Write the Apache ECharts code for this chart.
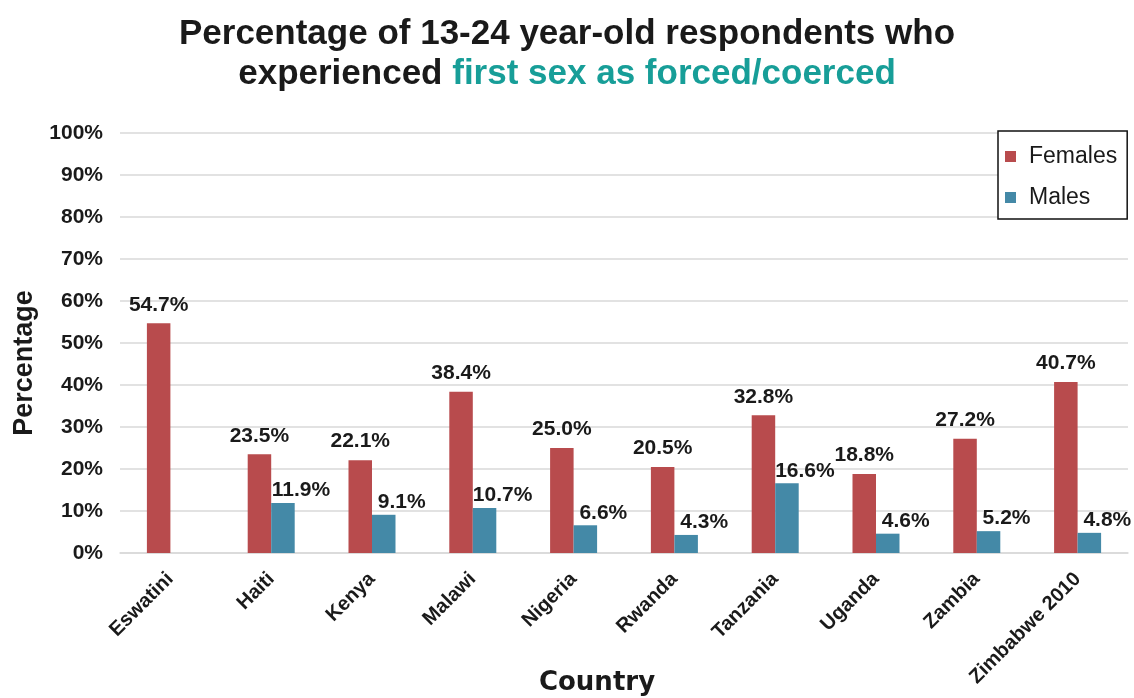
<!DOCTYPE html>
<html>
<head>
<meta charset="utf-8">
<style>
  html, body { margin: 0; padding: 0; background: #ffffff; }
  #chart { width: 1134px; height: 698px; }
</style>
<script src="https://cdn.jsdelivr.net/npm/echarts@6/dist/echarts.min.js"></script>
</head>
<body>
<div id="chart"></div>
<script>
// Countries surveyed
const countries = ['Eswatini', 'Haiti', 'Kenya', 'Malawi', 'Nigeria', 'Rwanda', 'Tanzania', 'Uganda', 'Zambia', 'Zimbabwe 2010'];
// Percent reporting first sex as forced/coerced
const females = [54.7, 23.5, 22.1, 38.4, 25.0, 20.5, 32.8, 18.8, 27.2, 40.7];
const males = [null, 11.9, 9.1, 10.7, 6.6, 4.3, 16.6, 4.6, 5.2, 4.8];
// Y axis range, percent
const yMin = 0, yMax = 100, yStep = 10;

const FONT = '"Liberation Sans", Arial, sans-serif';
const pct = p => (p.value == null ? '' : Number(p.value).toFixed(1) + '%');

const chart = echarts.init(document.getElementById('chart'), null, { renderer: 'canvas' });
chart.setOption({
  backgroundColor: '#ffffff',
  animation: false,
  title: {
    left: 'center',
    top: 9,
    text: '{a|Percentage of 13-24 year-old respondents who}\n{a|experienced }{b|first sex as forced/coerced}',
    textStyle: {
      rich: {
        a: { fontFamily: FONT, fontWeight: 'bold', fontSize: 35, color: '#1a1a1a', lineHeight: 40 },
        b: { fontFamily: FONT, fontWeight: 'bold', fontSize: 35, color: '#179e98', lineHeight: 40 }
      }
    }
  },
  legend: {
    orient: 'vertical',
    left: 998,
    top: 131,
    padding: [14, 10, 10, 7],
    itemGap: 18,
    itemWidth: 11,
    itemHeight: 11,
    icon: 'rect',
    borderColor: '#111111',
    borderWidth: 1.5,
    backgroundColor: '#ffffff',
    textStyle: { fontFamily: FONT, fontSize: 23, color: '#1a1a1a', padding: [0, 0, 0, 8] },
    data: ['Females', 'Males']
  },
  grid: { left: 120, right: 6, top: 133, bottom: 145, outerBoundsMode: 'none', containLabel: false },
  xAxis: {
    type: 'category',
    data: countries,
    name: 'Country',
    nameLocation: 'middle',
    nameGap: 117,
    nameMoveOverlap: false,
    nameTextStyle: {
      fontFamily: '"DejaVu Sans", sans-serif', fontWeight: 'bold', fontSize: 26, color: '#1a1a1a',
      padding: [0, 54, 0, 0]
    },
    axisLine: { lineStyle: { color: '#d9d9d9', width: 1.5 } },
    axisTick: { show: false },
    axisLabel: {
      interval: 0, rotate: 45, margin: 23,
      fontFamily: FONT, fontWeight: 'bold', fontSize: 20, color: '#1a1a1a'
    }
  },
  yAxis: {
    type: 'value',
    min: yMin, max: yMax, interval: yStep,
    name: 'Percentage',
    nameLocation: 'middle',
    nameGap: 79,
    nameTextStyle: {
      fontFamily: FONT, fontWeight: 'bold', fontSize: 27, color: '#1a1a1a',
      padding: [0, 40, 0, 0]
    },
    axisLine: { show: false },
    axisTick: { show: false },
    axisLabel: {
      margin: 17,
      formatter: '{value}%',
      fontFamily: FONT, fontWeight: 'bold', fontSize: 21, color: '#1a1a1a'
    },
    splitLine: { lineStyle: { color: '#d9d9d9', width: 1.5 } }
  },
  series: [
    {
      name: 'Females',
      type: 'bar',
      data: females,
      barWidth: 23.5,
      barGap: '0%',
      itemStyle: { color: '#b84b4d' },
      label: {
        show: true, position: 'top', distance: 8,
        formatter: pct,
        fontFamily: FONT, fontWeight: 'bold', fontSize: 21, color: '#1a1a1a'
      }
    },
    {
      name: 'Males',
      type: 'bar',
      data: males,
      barWidth: 23.5,
      barGap: '0%',
      itemStyle: { color: '#4489a7' },
      label: {
        show: true, position: 'top', distance: 2, offset: [18, 0],
        formatter: pct,
        fontFamily: FONT, fontWeight: 'bold', fontSize: 21, color: '#1a1a1a'
      }
    }
  ]
});
</script>
</body>
</html>
